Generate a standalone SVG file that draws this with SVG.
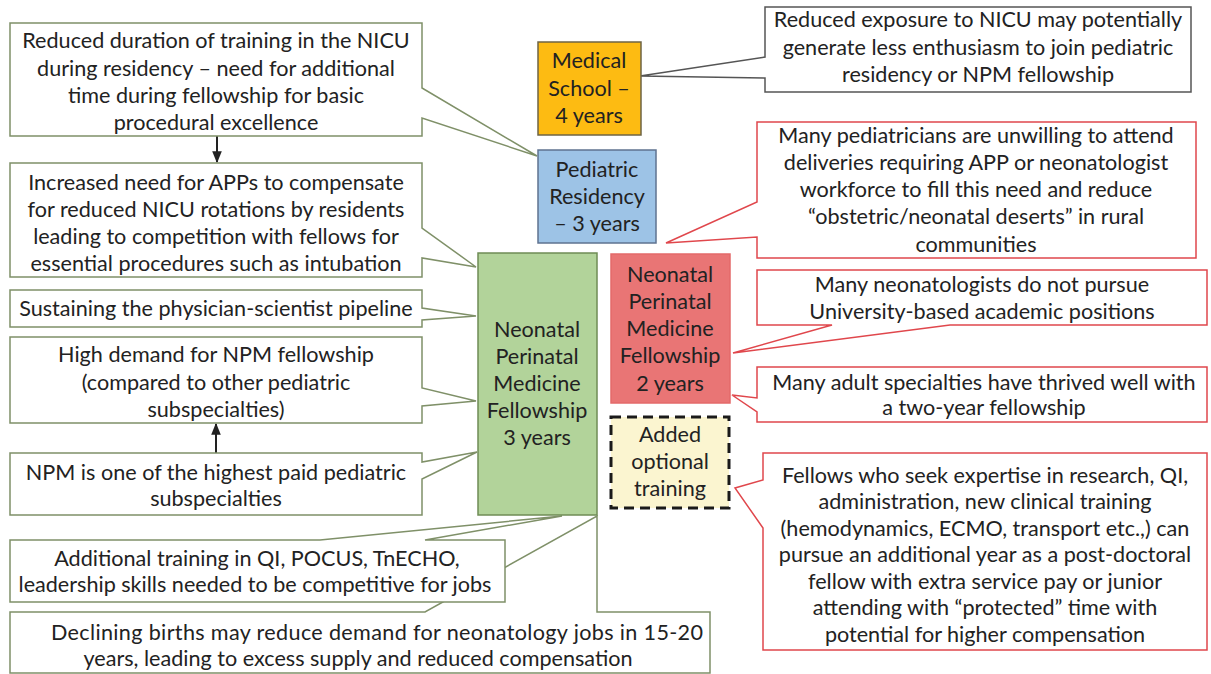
<svg xmlns="http://www.w3.org/2000/svg" width="1211" height="674" viewBox="0 0 1211 674">
<defs>
<marker id="ah" viewBox="0 0 10 10" refX="9" refY="5" markerWidth="6" markerHeight="6" orient="auto"><path d="M0,1 L10,5 L0,9 Z" fill="#222"/></marker>
<style>
text{font-family:Lato,"Liberation Sans",Arial,sans-serif;font-size:21.6px;fill:#222;text-anchor:middle}
.lc{fill:#fff;stroke:#7f9068;stroke-width:1.5}
.rc{fill:#fff;stroke:#e0474c;stroke-width:1.5}
.gc{fill:#fff;stroke:#555;stroke-width:1.5}
.arr{stroke:#222;stroke-width:2;fill:none;marker-end:url(#ah)}
</style>
</defs>
<rect width="1211" height="674" fill="#fff"/>
<g id="connectors">
<line class="arr" x1="217" y1="136" x2="217" y2="162"/>
<line class="arr" x1="216" y1="453" x2="216" y2="424"/>
</g>
<g id="left1"><path class="lc" d="M10,23 H422 V88 L537,156 L422,118 V136 H10 Z"/>
<text x="216" y="48">Reduced duration of training in the NICU</text><text x="216" y="76">during residency – need for additional</text><text x="216" y="103">time during fellowship for basic</text><text x="216" y="130">procedural excellence</text></g>
<g id="left2"><path class="lc" d="M10,163 H422 V228 L476,267 L422,258 V277 H10 Z"/>
<text x="216" y="190">Increased need for APPs to compensate</text><text x="216" y="217">for reduced NICU rotations by residents</text><text x="216" y="244">leading to competition with fellows for</text><text x="216" y="271">essential procedures such as intubation</text></g>
<g id="left3"><path class="lc" d="M10,290 H422 V308 L476,316 L422,320 V327 H10 Z"/>
<text x="216" y="316">Sustaining the physician-scientist pipeline</text></g>
<g id="left4"><path class="lc" d="M10,337 H422 V388 L476,401 L422,406 V423 H10 Z"/>
<text x="216" y="362">High demand for NPM fellowship</text><text x="216" y="390">(compared to other pediatric</text><text x="216" y="417">subspecialties)</text></g>
<g id="left5"><path class="lc" d="M10,453 H422 V462 L477,452 L422,479 V515 H10 Z"/>
<text x="216" y="480">NPM is one of the highest paid pediatric</text><text x="216" y="506">subspecialties</text></g>
<g id="left7"><path class="lc" d="M10,612 H425 L597,516 V612 H710 V673 H10 Z"/>
<text x="377" y="640" textLength="652" lengthAdjust="spacing">Declining births may reduce demand for neonatology jobs in 15-20</text><text x="358" y="666">years, leading to excess supply and reduced compensation</text></g>
<g id="left6"><path class="lc" d="M10,540 H320 L562,516 L425,540 H505 V602 H10 Z"/>
<text x="257" y="566">Additional training in QI, POCUS, TnECHO,</text><text x="255" y="592">leadership skills needed to be competitive for jobs</text></g>
<g id="right1"><path class="gc" d="M765,7 H1191 V92 H765 V78 L640,76 L765,57 Z"/>
<text x="978" y="27">Reduced exposure to NICU may potentially</text><text x="978" y="55">generate less enthusiasm to join pediatric</text><text x="978" y="82">residency or NPM fellowship</text></g>
<g id="right2"><path class="rc" d="M757,122 H1196 V258 H757 V237 L666,243 L757,202 Z"/>
<text x="976" y="143">Many pediatricians are unwilling to attend</text><text x="976" y="170">deliveries requiring APP or neonatologist</text><text x="976" y="197">workforce to fill this need and reduce</text><text x="976" y="224">“obstetric/neonatal deserts” in rural</text><text x="976" y="252">communities</text></g>
<g id="right3"><path class="rc" d="M757,270 H1207 V325 H950 L733,353 L832,325 H757 Z"/>
<text x="982" y="292">Many neonatologists do not pursue</text><text x="982" y="319">University-based academic positions</text></g>
<g id="right4"><path class="rc" d="M757,367 H1207 V422 H757 V412 L732,395 L757,398 Z"/>
<text x="984" y="390">Many adult specialties have thrived well with</text><text x="984" y="415">a two-year fellowship</text></g>
<g id="right5"><path class="rc" d="M763,453 H1207 V650 H763 V528 L735,488 L763,480 Z"/>
<text x="985" y="483">Fellows who seek expertise in research, QI,</text><text x="985" y="509">administration, new clinical training</text><text x="985" y="536">(hemodynamics, ECMO, transport etc.,) can</text><text x="985" y="562">pursue an additional year as a post-doctoral</text><text x="985" y="589">fellow with extra service pay or junior</text><text x="985" y="615">attending with “protected” time with</text><text x="985" y="642">potential for higher compensation</text></g>
<g id="medschool"><rect x="538" y="42" width="103" height="93" fill="#fdbb12" stroke="#6e6445" stroke-width="1.5"/>
<text x="589" y="68">Medical</text><text x="589" y="96">School –</text><text x="589" y="123">4 years</text></g>
<g id="residency"><rect x="538" y="150" width="118" height="93" fill="#9dc3e6" stroke="#5f7390" stroke-width="1.5"/>
<text x="597" y="177">Pediatric</text><text x="597" y="204">Residency</text><text x="597" y="231">– 3 years</text></g>
<g id="npm3"><rect x="478" y="253" width="119" height="262" fill="#b2d39a" stroke="#6f8c55" stroke-width="1.5"/>
<text x="537" y="337">Neonatal</text><text x="537" y="364">Perinatal</text><text x="537" y="391">Medicine</text><text x="537" y="418">Fellowship</text><text x="537" y="445">3 years</text></g>
<g id="npm2"><rect x="611" y="254" width="119" height="149" fill="#e97575" stroke="#e36a6a" stroke-width="1.5"/>
<text x="670" y="282">Neonatal</text><text x="670" y="309">Perinatal</text><text x="670" y="336">Medicine</text><text x="670" y="363">Fellowship</text><text x="670" y="391">2 years</text></g>
<g id="optional"><rect x="611" y="417" width="118" height="91" fill="#fbf5d0" stroke="#1a1a1a" stroke-width="3" stroke-dasharray="10,6"/>
<text x="670" y="442">Added</text><text x="670" y="469">optional</text><text x="670" y="496">training</text></g>
</svg>
